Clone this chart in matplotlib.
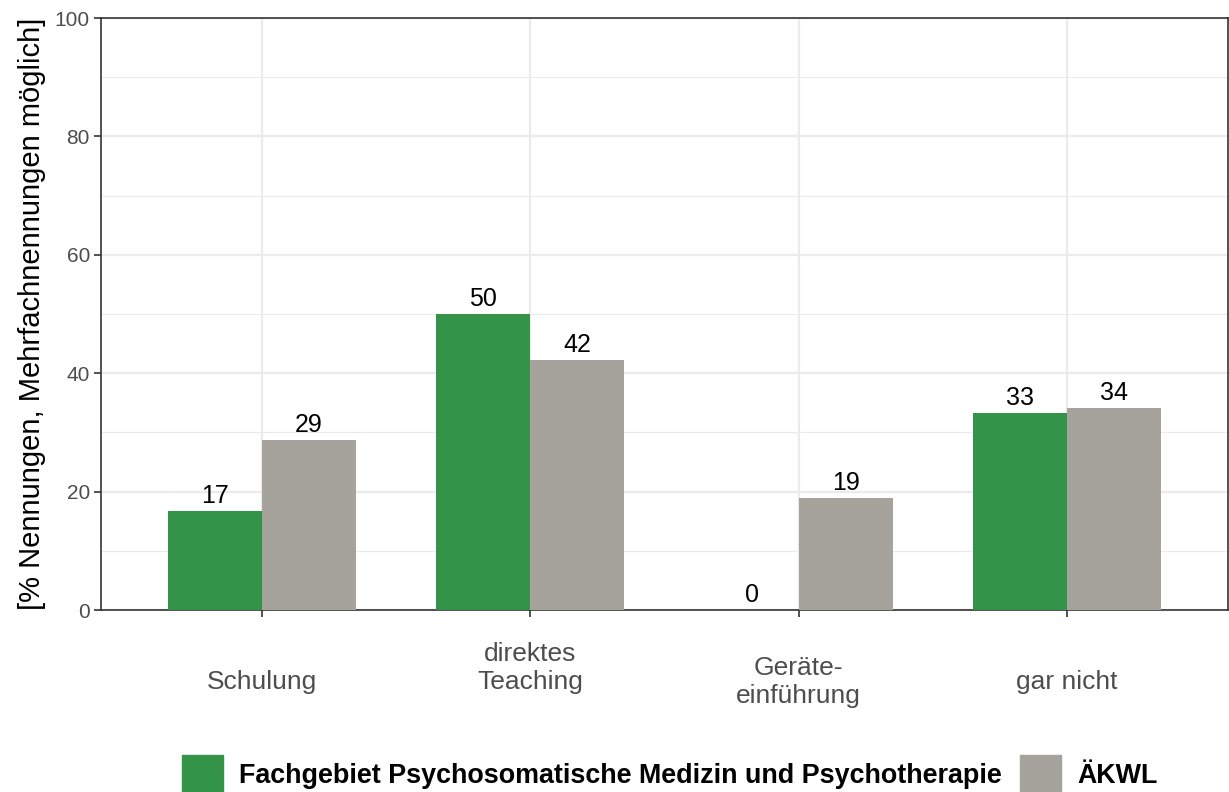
import numpy as np
import matplotlib.pyplot as plt
from matplotlib.patches import Patch

plt.rcParams['font.family'] = ['Liberation Sans', 'DejaVu Sans']

categories = ['Schulung', 'direktes\nTeaching\n', 'Geräte-\neinführung', 'gar nicht']
series = ['Fachgebiet Psychosomatische Medizin und Psychotherapie', 'ÄKWL']
fach = [16.7, 50.0, 0.0, 33.3]
aekwl = [28.7, 42.2, 18.9, 34.1]
labels_fach = ['17', '50', '0', '33']
labels_aekwl = ['29', '42', '19', '34']
colors = ['#339449', '#A6A39C']

fig = plt.figure(figsize=(12.29, 7.92), dpi=100)
ax = fig.add_axes([101 / 1229, 1 - 610 / 792, 1127 / 1229, 592 / 792])

x = np.arange(1, len(categories) + 1)
w = 0.35
b1 = ax.bar(x - w / 2, fach, width=w, color=colors[0], zorder=3)
b2 = ax.bar(x + w / 2, aekwl, width=w, color=colors[1], zorder=3)
ax.bar_label(b1, labels=labels_fach, padding=2, fontsize=18, color='black')
ax.bar_label(b2, labels=labels_aekwl, padding=2, fontsize=18, color='black')

ax.set_xlim(0.4, 4.6)
ax.set_ylim(0, 100)
ax.set_yticks(np.arange(0, 101, 20))
ax.set_yticks(np.arange(10, 100, 20), minor=True)
ax.set_xticks(x)
ax.set_xticklabels(categories, va='center', linespacing=1.22, fontsize=19)

ax.grid(True, which='major', color='#EBEBEB', linewidth=1.6, zorder=0)
ax.grid(True, which='minor', axis='y', color='#EBEBEB', linewidth=0.8, zorder=0)
ax.set_axisbelow(True)

for s in ax.spines.values():
    s.set_color('#333333')
    s.set_linewidth(1.2)

ax.tick_params(axis='both', which='major', labelcolor='#4D4D4D',
               color='#333333', width=1.2, length=5)
ax.tick_params(axis='y', labelsize=15, pad=3)
ax.tick_params(axis='x', pad=47)
ax.tick_params(axis='y', which='minor', length=0)

ax.set_ylabel('[% Nennungen, Mehrfachnennungen möglich]', fontsize=21, labelpad=6)

handles = [Patch(color=colors[0]), Patch(color=colors[1])]
fig.legend(handles, series, loc='center', bbox_to_anchor=(670 / 1229, 18 / 792),
           ncol=2, frameon=False, prop={'weight': 'bold', 'size': 19.4},
           handlelength=1.5, handleheight=1.8, handletextpad=0.62, columnspacing=0.68)

fig.savefig('out.png', dpi=100)
